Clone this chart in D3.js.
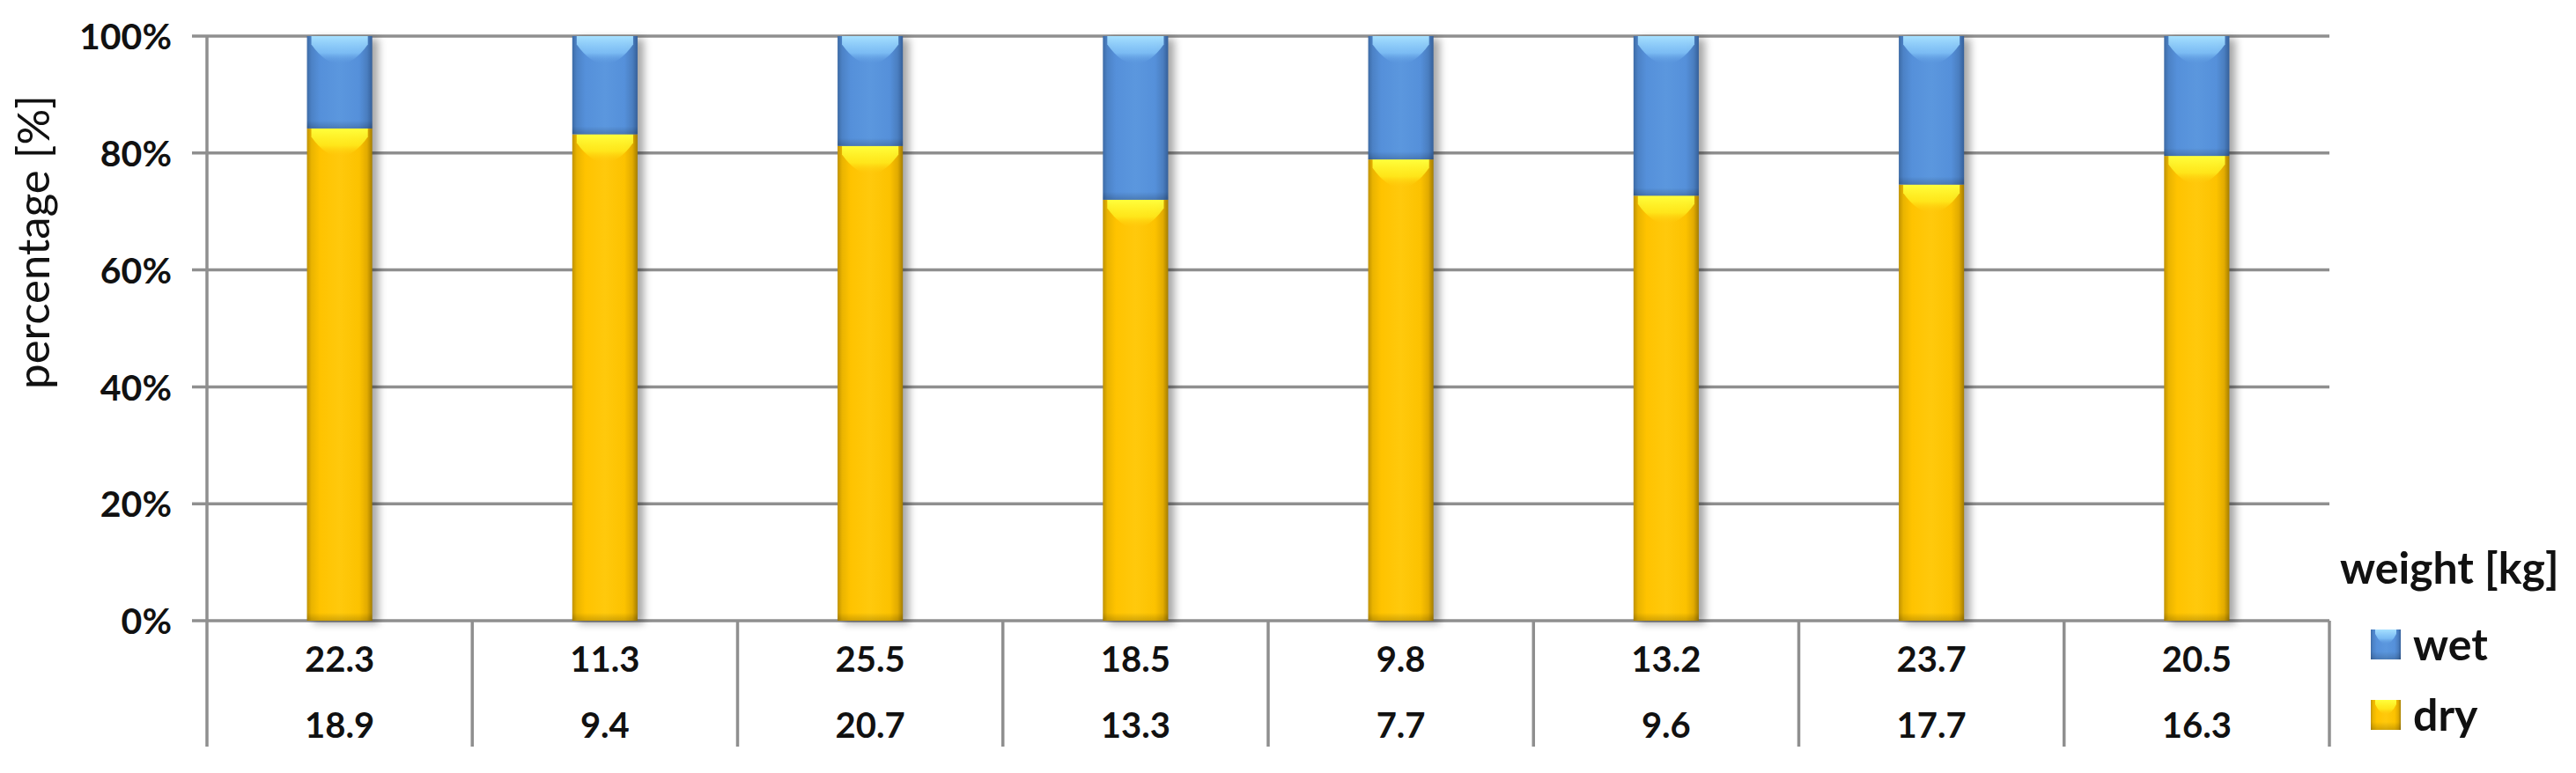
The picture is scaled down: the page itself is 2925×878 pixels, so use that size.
<!DOCTYPE html>
<html><head><meta charset="utf-8">
<script src="https://cdn.jsdelivr.net/npm/d3@7"></script>
<style>body{margin:0;background:#fff}</style>
</head><body><svg id="c" width="2925" height="878"></svg>
<script>
// ---- data ----
const wetWeights = ["22.3","11.3","25.5","18.5","9.8","13.2","23.7","20.5"];
const dryWeights = ["18.9","9.4","20.7","13.3","7.7","9.6","17.7","16.3"];
const dryPct = [84.2, 83.2, 81.2, 72.0, 78.9, 72.7, 74.6, 79.5];
const wetPct = [15.8, 16.8, 18.8, 28.0, 21.1, 27.3, 25.4, 20.5];
const yTicks = [0, 20, 40, 60, 80, 100];
const seriesNames = ["wet", "dry"];
const legendTitle = "weight [kg]";
const yTitle = "percentage [%]";

// ---- layout ----
const W = 2925, H = 878;
const L = 235, R = 2645, T = 41, B = 705, tableBottom = 848;
const FONT = "Lato, 'Open Sans', sans-serif";

const svg = d3.select("#c");
svg.append("rect").attr("width", W).attr("height", H).attr("fill", "#fff");

const idx = d3.range(wetWeights.length);
const x = d3.scaleBand().domain(idx).range([L, R]).paddingInner(0.754).paddingOuter(0.377);
const xCell = d3.scaleBand().domain(idx).range([L, R]).padding(0);
const y = d3.scaleLinear().domain([0, 100]).range([B, T]);

// ---- defs ----
const defs = svg.append("defs");
function hGrad(id, stops) {
  const g = defs.append("linearGradient").attr("id", id).attr("x1", 0).attr("x2", 1).attr("y1", 0).attr("y2", 0);
  stops.forEach(s => g.append("stop").attr("offset", s[0]).attr("stop-color", s[1]).attr("stop-opacity", s[2] == null ? 1 : s[2]));
}
function vGrad(id, stops) {
  const g = defs.append("linearGradient").attr("id", id).attr("x1", 0).attr("x2", 0).attr("y1", 0).attr("y2", 1);
  stops.forEach(s => g.append("stop").attr("offset", s[0]).attr("stop-color", s[1]).attr("stop-opacity", s[2] == null ? 1 : s[2]));
}
hGrad("blueH", [[0, "#3d6ba6"], [0.07, "#4c82c6"], [0.2, "#5590da"], [0.5, "#5b97de"], [0.8, "#5590da"], [0.92, "#4a7ec0"], [1, "#35609a"]]);
hGrad("yelH", [[0, "#c09200"], [0.07, "#eab400"], [0.2, "#ffc300"], [0.5, "#ffc90c"], [0.8, "#fcc200"], [0.92, "#e2ab00"], [1, "#a57e00"]]);
vGrad("blueTop", [[0, "#a6e0ff"], [0.6, "#86c8fb", 0.75], [1, "#5b97de", 0]]);
vGrad("yelTop", [[0, "#ffff3c"], [0.6, "#fff020", 0.75], [1, "#ffc90c", 0]]);
vGrad("botShade", [[0, "#000", 0], [1, "#000", 0.18]]);
const sh = defs.append("filter").attr("id", "shadow").attr("x", "-50%").attr("y", "-10%").attr("width", "200%").attr("height", "120%");
sh.append("feGaussianBlur").attr("in", "SourceAlpha").attr("stdDeviation", 5).attr("result", "b");
sh.append("feOffset").attr("in", "b").attr("dx", 7).attr("dy", 3).attr("result", "o");
sh.append("feComponentTransfer").attr("in", "o").append("feFuncA").attr("type", "linear").attr("slope", 0.35);

// ---- gridlines ----
svg.append("g").selectAll("line").data(yTicks).join("line")
  .attr("x1", L - 17).attr("x2", R).attr("y1", d => y(d)).attr("y2", d => y(d))
  .attr("stroke", "#8f8f8f").attr("stroke-width", 3.5);

// ---- table lines ----
svg.append("g").selectAll("line").data(d3.range(wetWeights.length + 1)).join("line")
  .attr("x1", i => i < wetWeights.length ? xCell(i) : R)
  .attr("x2", i => i < wetWeights.length ? xCell(i) : R)
  .attr("y1", i => i === 0 ? T : B).attr("y2", tableBottom)
  .attr("stroke", "#8f8f8f").attr("stroke-width", 3.5);

// ---- y axis labels ----
const yAxis = d3.axisLeft(y).tickValues(yTicks).tickFormat(d => d + "%").tickSize(17).tickPadding(23);
const ax = svg.append("g").attr("transform", `translate(${L},0)`).call(yAxis);
ax.select(".domain").remove();
ax.selectAll(".tick line").remove();
ax.selectAll("text").attr("font-family", FONT).attr("font-size", 41).attr("font-weight", 700).attr("fill", "#111").attr("dy", "0.36em");

svg.append("text").attr("transform", `translate(56,275) rotate(-90)`).attr("text-anchor", "middle")
  .attr("font-family", FONT).attr("font-size", 51).attr("fill", "#111").text(yTitle);

// ---- bars ----
function segment(g, x0, w, yTop, yBot, fillH, topG) {
  g.append("rect").attr("x", x0).attr("y", yTop).attr("width", w).attr("height", yBot - yTop).attr("fill", `url(#${fillH})`);
  const hh = Math.min(32, (yBot - yTop) * 0.5);
  const xc = x0 + w / 2;
  g.append("path")
    .attr("d", `M${x0 + 5},${yTop} L${x0 + w - 5},${yTop} L${x0 + w - 5},${yTop + hh * 0.3} Q${xc},${yTop + hh * 1.7} ${x0 + 5},${yTop + hh * 0.3} Z`)
    .attr("fill", `url(#${topG})`);
  g.append("rect").attr("x", x0).attr("y", yBot - 9).attr("width", w).attr("height", 9).attr("fill", "url(#botShade)");
}
const barsG = svg.append("g");
barsG.selectAll("rect.sh").data(idx).join("rect").attr("class", "sh")
  .attr("x", i => x(i)).attr("y", y(100)).attr("width", x.bandwidth()).attr("height", y(0) - y(100))
  .attr("fill", "#000").attr("filter", "url(#shadow)");
idx.forEach(i => {
  const g = barsG.append("g");
  const x0 = x(i), w = x.bandwidth();
  segment(g, x0, w, y(dryPct[i]), y(0), "yelH", "yelTop");
  segment(g, x0, w, y(dryPct[i] + wetPct[i]), y(dryPct[i]), "blueH", "blueTop");
});

// ---- table text ----
const rows = [wetWeights, dryWeights];
const rowBase = [763, 838];
rows.forEach((row, r) => {
  svg.append("g").selectAll("text").data(row).join("text")
    .attr("x", (d, i) => xCell(i) + xCell.bandwidth() / 2).attr("y", rowBase[r])
    .attr("text-anchor", "middle").attr("font-family", FONT).attr("font-size", 40).attr("font-weight", 700)
    .attr("fill", "#111").text(d => d);
});

// ---- legend ----
svg.append("text").attr("x", 2657).attr("y", 663).attr("font-family", FONT).attr("font-size", 50)
  .attr("font-weight", 700).attr("fill", "#111").text(legendTitle);
const legG = svg.append("g");
const legY = [715, 795];
const legFill = [["blueH", "blueTop"], ["yelH", "yelTop"]];
seriesNames.forEach((s, k) => {
  const g = legG.append("g");
  segment(g, 2692, 34, legY[k], legY[k] + 34, legFill[k][0], legFill[k][1]);
  g.append("text").attr("x", 2740).attr("y", legY[k] + 35).attr("font-family", FONT).attr("font-size", 50)
    .attr("font-weight", 700).attr("fill", "#111").text(s);
});
</script></body></html>
